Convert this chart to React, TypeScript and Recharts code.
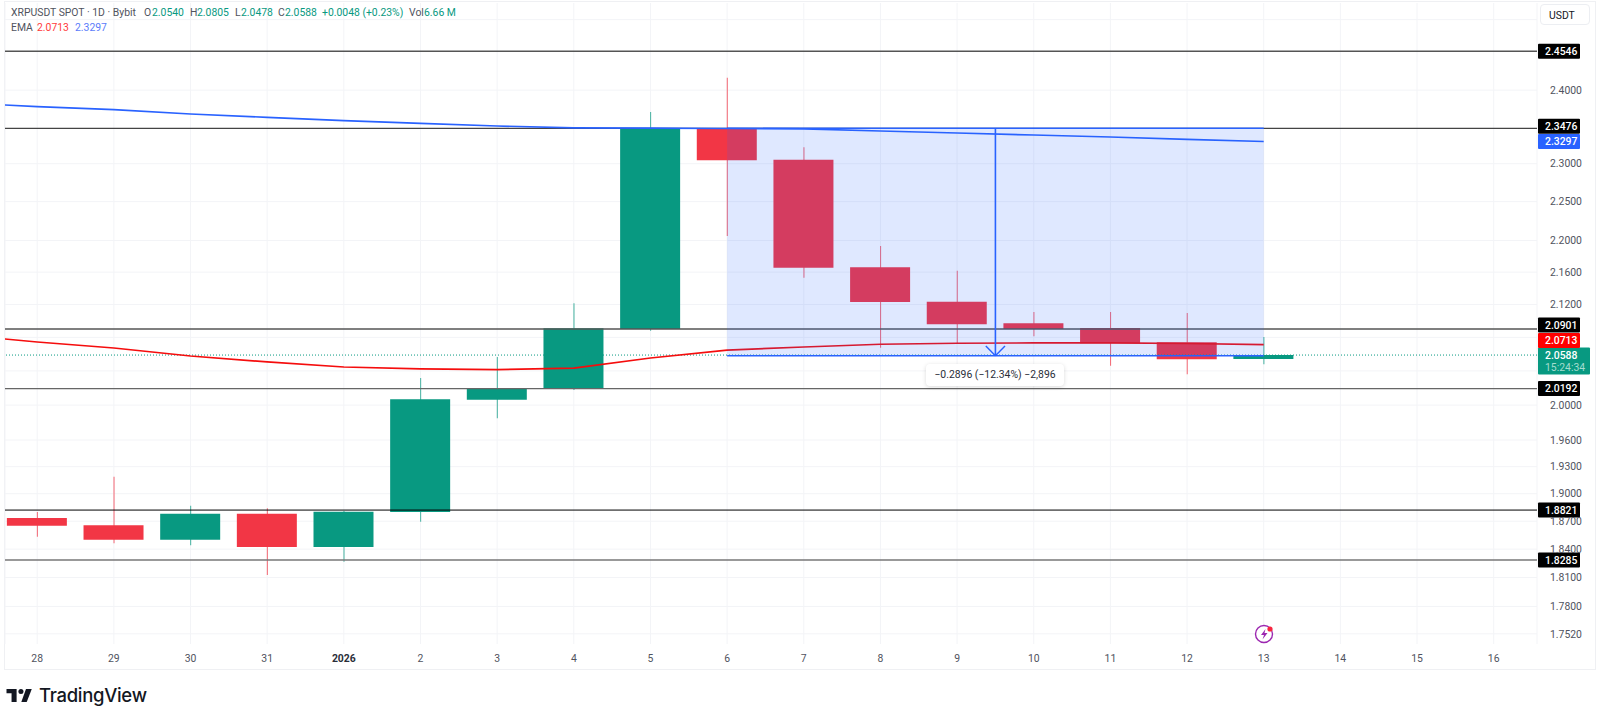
import { Bar, CartesianGrid, Cell, ComposedChart, Line, ReferenceArea, ReferenceLine, XAxis, YAxis } from "recharts";

const dayLabels = ["28", "29", "30", "31", "2026", "2", "3", "4", "5", "6", "7", "8", "9", "10", "11", "12", "13", "14", "15", "16"];
const priceTicks = [2.4, 2.3, 2.25, 2.2, 2.16, 2.12, 2.0, 1.96, 1.93, 1.9, 1.87, 1.84, 1.81, 1.78, 1.752];
const gridPrices = [2.5, 2.4, 2.3, 2.25, 2.2, 2.16, 2.12, 2.08, 2.04, 2.0, 1.96, 1.93, 1.9, 1.87, 1.84, 1.81, 1.78, 1.752];

const opens = [1.8735, 1.8656, 1.8501, 1.8782, 1.8423, 1.88, 2.0063, 2.0187, 2.0901, 2.3476, 2.3053, 2.1661, 2.1234, 2.097, 2.0913, 2.0741, 2.054];
const highs = [1.88, 1.9188, 1.8869, 1.884, 1.8811, 2.0317, 2.0565, 2.1214, 2.3699, 2.4174, 2.3219, 2.193, 2.1618, 2.1108, 2.1108, 2.1095, 2.0805];
const lows = [1.8533, 1.8463, 1.8441, 1.8127, 1.8267, 1.8695, 1.9848, 2.0176, 2.0881, 2.2057, 2.1531, 2.0676, 2.0729, 2.0813, 2.0462, 2.036, 2.0478];
const closes = [1.8652, 1.8501, 1.8782, 1.8423, 1.8803, 2.0068, 2.0199, 2.091, 2.3476, 2.3045, 2.1656, 2.123, 2.0958, 2.0901, 2.0729, 2.0538, 2.0588];

const emaX = [-1, 0, 1, 2, 3, 4, 5, 6, 7, 8, 9, 10, 11, 12, 13, 14, 15, 16];
const emaFast = [2.083, 2.0744, 2.0672, 2.0577, 2.0506, 2.0446, 2.0423, 2.0415, 2.0434, 2.0553, 2.0648, 2.0684, 2.0717, 2.0729, 2.0733, 2.0733, 2.0726, 2.0713];
const emaSlow = [2.3828, 2.3771, 2.373, 2.3671, 2.3626, 2.358, 2.3544, 2.3507, 2.3483, 2.3477, 2.3473, 2.3467, 2.3439, 2.3412, 2.3385, 2.3358, 2.3327, 2.3297];

const RED = "#f23645";
const GREEN = "#089981";
const BLUE = "#2962ff";
const FONT = "Roboto, sans-serif";
const FS = 10.4;
const xDomain = [-0.42, 19.565];
const yDomain = [1.7417, 2.5242];

const candles = opens.map((o, i) => ({
  x: i,
  body: [Math.min(o, closes[i]), Math.max(o, closes[i])],
  wick: [lows[i], highs[i]],
  up: closes[i] >= o,
}));
const emaRows = emaX.map((x, i) => ({ x, fast: emaFast[i], slow: emaSlow[i] }));

function PriceTag({ viewBox, text, fill, dy = 0, sub }: any) {
  const left = viewBox.x + viewBox.width + 1;
  const mid = viewBox.y + dy;
  const w = sub ? 52 : 42;
  return (
    <g fontFamily={FONT}>
      <rect x={left} y={mid - 7.5} width={w} height={sub ? 27 : 15} rx={1} fill={fill} />
      <text x={left + 7} y={mid + 3.8} fontSize={FS} fontWeight={500} fill="#fff">{text}</text>
      {sub && <text x={left + 7} y={mid + 16} fontSize={FS} fill="#a5dccf">{sub}</text>}
    </g>
  );
}

function DayTick({ x, y, payload }: any) {
  const label = dayLabels[payload.value];
  return (
    <text x={x} y={y} dy={4} textAnchor="middle" fontFamily={FONT} fontSize={FS} fontWeight={label === "2026" ? 700 : 400} fill={label === "2026" ? "#2a2e39" : "#50535e"}>
      {label}
    </text>
  );
}

const legendBase: React.CSSProperties = { position: "absolute", whiteSpace: "nowrap", fontFamily: FONT, fontSize: FS, lineHeight: "14px", color: "#50535e" };

function Legend({ x, y, color, text }: { x: number; y: number; color?: string; text: string }) {
  return <span style={{ ...legendBase, left: x, top: y - 7, color: color ?? legendBase.color }}>{text}</span>;
}

export default function App() {
  return (
    <div style={{ position: "absolute", left: 0, top: 0, width: 1600, height: 716, background: "#fff", overflow: "hidden" }}>
      <div style={{ position: "absolute", left: 4, top: 1, width: 1590, height: 667, border: "1px solid #eff0f3" }} />
      <div style={{ position: "absolute", left: 0, top: 0 }}>
        <ComposedChart width={1600} height={716} data={candles} margin={{ top: 3, left: 5, right: 0, bottom: 47 }}>
          <CartesianGrid stroke="#f3f4f7" strokeWidth={1} horizontalValues={gridPrices} />
          <XAxis dataKey="x" type="number" domain={xDomain} ticks={dayLabels.map((_, i) => i)} allowDataOverflow interval={0} height={25} axisLine={false} tickLine={false} tickMargin={8} tick={<DayTick />} />
          <XAxis xAxisId="wick" dataKey="x" type="number" domain={xDomain} ticks={dayLabels.map((_, i) => i)} allowDataOverflow hide />
          <YAxis orientation="right" width={63} scale="log" domain={yDomain} ticks={priceTicks} interval={0} allowDataOverflow axisLine={false} tickLine={false} tickMargin={7} zIndex={50} tick={{ fontSize: FS, fill: "#50535e", fontFamily: FONT, textAnchor: "start" }} tickFormatter={(v: number) => v.toFixed(4)} />
          <Bar xAxisId="wick" dataKey="wick" barSize={1} isAnimationActive={false}>
            {candles.map((c) => (
              <Cell key={c.x} fill={c.up ? GREEN : RED} fillOpacity={0.75} />
            ))}
          </Bar>
          <Bar dataKey="body" barSize={60} isAnimationActive={false}>
            {candles.map((c) => (
              <Cell key={c.x} fill={c.up ? GREEN : RED} />
            ))}
          </Bar>
          <ReferenceLine y={2.0588} stroke={GREEN} strokeDasharray="1 2" label={<PriceTag text="2.0588" sub="15:24:34" fill={GREEN} />} />
          <ReferenceLine y={2.4546} stroke="#555" strokeWidth={1.4} label={<PriceTag text="2.4546" fill="#000" />} />
          <ReferenceLine y={2.3476} stroke="#444" strokeWidth={1.2} label={<PriceTag text="2.3476" fill="#000" dy={-2} />} />
          <ReferenceLine y={2.0901} stroke="#555" strokeWidth={1.4} label={<PriceTag text="2.0901" fill="#000" dy={-4} />} />
          <ReferenceLine y={2.0192} stroke="#666" strokeWidth={1.4} label={<PriceTag text="2.0192" fill="#000" />} />
          <ReferenceLine y={1.8821} stroke="#000" strokeWidth={1} label={<PriceTag text="1.8821" fill="#000" />} />
          <ReferenceLine y={1.8285} stroke="#777" strokeWidth={1.4} label={<PriceTag text="1.8285" fill="#000" />} />
          <ReferenceLine y={2.3297} stroke="none" label={<PriceTag text="2.3297" fill={BLUE} />} />
          <ReferenceLine y={2.0713} stroke="none" label={<PriceTag text="2.0713" fill="#ff0000" dy={-4} />} />
          <Line data={emaRows} dataKey="fast" stroke="#f50d0d" strokeWidth={1.7} dot={false} isAnimationActive={false} />
          <Line data={emaRows} dataKey="slow" stroke={BLUE} strokeWidth={1.7} dot={false} isAnimationActive={false} />
          <ReferenceArea x1={9} x2={16} y1={2.058} y2={2.3476} fill={BLUE} fillOpacity={0.15} stroke="none" zIndex={700} />
          <ReferenceLine segment={[{ x: 9, y: 2.3476 }, { x: 16, y: 2.3476 }]} stroke={BLUE} strokeWidth={1.6} zIndex={710} />
          <ReferenceLine segment={[{ x: 9, y: 2.058 }, { x: 16, y: 2.058 }]} stroke={BLUE} strokeWidth={1.6} zIndex={710} />
          <ReferenceLine segment={[{ x: 12.5, y: 2.3476 }, { x: 12.5, y: 2.058 }]} stroke={BLUE} strokeWidth={1.6} zIndex={710} />
          <ReferenceLine segment={[{ x: 12.375, y: 2.0696 }, { x: 12.5, y: 2.058 }]} stroke={BLUE} strokeWidth={1.4} zIndex={710} />
          <ReferenceLine segment={[{ x: 12.625, y: 2.0696 }, { x: 12.5, y: 2.058 }]} stroke={BLUE} strokeWidth={1.4} zIndex={710} />
        </ComposedChart>
      </div>

      <Legend x={11} y={13} text="XRPUSDT SPOT · 1D · Bybit" />
      <Legend x={144} y={13} text="O" />
      <Legend x={152} y={13} color={GREEN} text="2.0540" />
      <Legend x={190} y={13} text="H" />
      <Legend x={197} y={13} color={GREEN} text="2.0805" />
      <Legend x={235} y={13} text="L" />
      <Legend x={241} y={13} color={GREEN} text="2.0478" />
      <Legend x={278} y={13} text="C" />
      <Legend x={285} y={13} color={GREEN} text="2.0588" />
      <Legend x={322} y={13} color={GREEN} text="+0.0048 (+0.23%)" />
      <Legend x={409} y={13} text="Vol" />
      <Legend x={424} y={13} color={GREEN} text="6.66 M" />
      <Legend x={11} y={28} text="EMA" />
      <Legend x={37} y={28} color="#ff3b3b" text="2.0713" />
      <Legend x={75} y={28} color="#5b7cfa" text="2.3297" />

      <div style={{ position: "absolute", left: 1540, top: 4, width: 50, height: 21, border: "1px solid #eceef2", borderRadius: 4, background: "#fff", fontFamily: FONT, fontSize: FS, lineHeight: "21px", color: "#131722", paddingLeft: 8, boxSizing: "border-box" }}>USDT</div>

      <div style={{ position: "absolute", left: 926, top: 364, width: 138, height: 22, borderRadius: 4, background: "#fff", boxShadow: "0 1px 4px rgba(0,0,0,0.15)", fontFamily: FONT, fontSize: FS, lineHeight: "22px", color: "#2a2e39", textAlign: "center" }}>−0.2896 (−12.34%) −2,896</div>

      <svg style={{ position: "absolute", left: 1253, top: 623 }} width={24} height={22} viewBox="0 0 24 22">
        <circle cx={11} cy={11} r={8.5} fill="#fff" stroke="#9c27b0" strokeWidth={1.4} />
        <path d="M12.5 6 8 12h3l-1.5 4.5L14.5 10h-3z" fill="#9c27b0" />
        <circle cx={17} cy={6} r={2.6} fill="#f7253f" />
      </svg>

      <svg style={{ position: "absolute", left: 6, top: 689 }} width={27} height={13} viewBox="0 0 36 18">
        <path d="M14 0H0v6h7v12h7V6z" fill="#131722" />
        <circle cx={20} cy={3.5} r={3.5} fill="#131722" />
        <path d="M28 18h-7.5L27 0h8z" fill="#131722" />
      </svg>
      <span style={{ position: "absolute", left: 39, top: 684, fontFamily: "Inter, sans-serif", fontWeight: 500, fontSize: 18.5, lineHeight: "23px", color: "#131722", letterSpacing: -0.3 }}>TradingView</span>
    </div>
  );
}
